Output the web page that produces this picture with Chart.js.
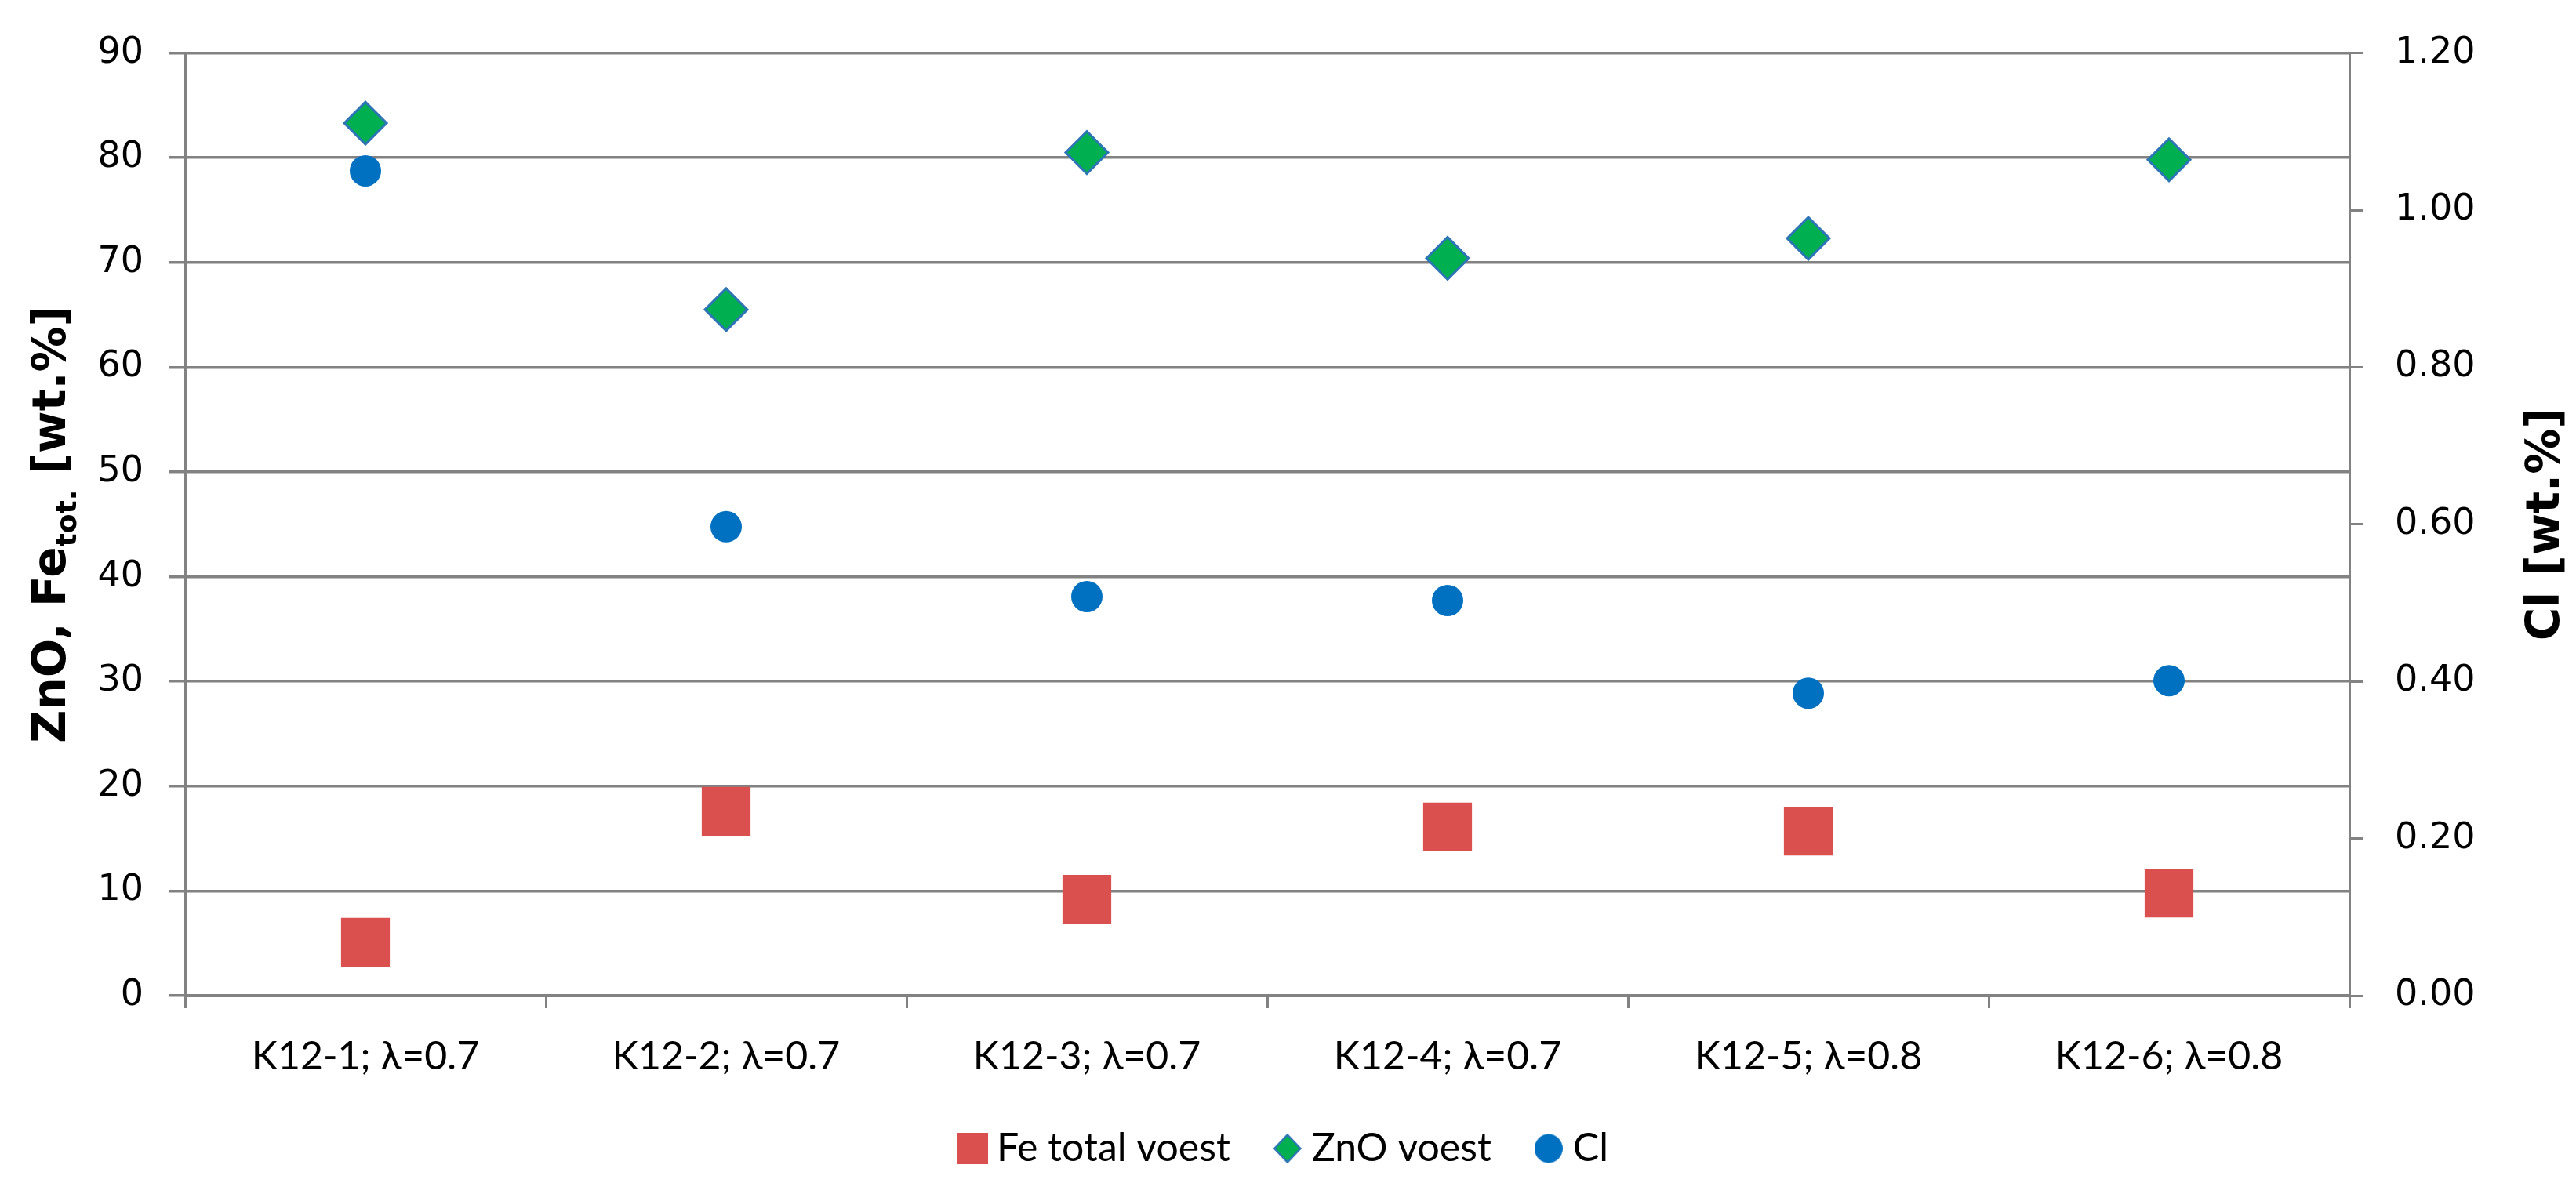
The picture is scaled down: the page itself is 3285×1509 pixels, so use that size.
<!DOCTYPE html>
<html>
<head>
<meta charset="utf-8">
<script src="https://cdn.jsdelivr.net/npm/chart.js@4.4.1/dist/chart.umd.min.js"></script>
<style>
  html, body { margin: 0; padding: 0; background: #fff; }
  #wrap { width: 3285px; height: 1509px; }
</style>
</head>
<body>
<div id="wrap"><canvas id="chart"></canvas></div>
<script>
// samples on the x axis
const categories = ['K12-1; λ=0.7', 'K12-2; λ=0.7', 'K12-3; λ=0.7', 'K12-4; λ=0.7', 'K12-5; λ=0.8', 'K12-6; λ=0.8'];

// left axis [wt.%]
const feTotal = [5.1, 17.6, 9.2, 16.1, 15.7, 9.8];
const znoVoest = [83.3, 65.5, 80.5, 70.4, 72.3, 79.8];

// right axis [wt.%]
const clValues = [1.05, 0.597, 0.508, 0.503, 0.385, 0.401];

// axis ranges
const leftMax = 90, leftStep = 10;
const rightMax = 1.2, rightStep = 0.2;

const gridGray = '#828282';
const numFont = { family: '"DejaVu Sans"', size: 46 };
const labelFont = { family: 'Lato', size: 50 };

const feColor = '#d9504e';
const znoFill = '#00b050';
const znoEdge = '#2e75b6';
const clColor = '#0070c0';

// small legend icons, sized like the ones in the original legend
function makeIcon(w, h, draw) {
  const c = document.createElement('canvas');
  c.width = w;
  c.height = h;
  draw(c.getContext('2d'), w, h);
  return c;
}
const legendIcons = [
  makeIcon(40, 40, (g, w, h) => { g.fillStyle = feColor; g.fillRect(0, 0, w, h); }),
  makeIcon(36, 38, (g, w, h) => {
    g.beginPath();
    g.moveTo(w / 2, 1.5); g.lineTo(w - 1.5, h / 2); g.lineTo(w / 2, h - 1.5); g.lineTo(1.5, h / 2);
    g.closePath();
    g.fillStyle = znoFill; g.fill();
    g.lineWidth = 2.5; g.strokeStyle = znoEdge; g.stroke();
  }),
  makeIcon(36, 37, (g, w, h) => {
    g.beginPath();
    g.ellipse(w / 2, h / 2, w / 2, h / 2, 0, 0, Math.PI * 2);
    g.fillStyle = clColor; g.fill();
  })
];

// rotated axis titles, both reading bottom to top, left one has a subscript
const axisTitles = {
  id: 'axisTitles',
  afterDraw(chart) {
    const ctx = chart.ctx;
    const area = chart.chartArea;
    const midY = (area.top + area.bottom) / 2;
    const main = 'bold 58px "DejaVu Sans"';
    const sub = 'bold 36px "DejaVu Sans"';

    const drawParts = (parts, baseX) => {
      ctx.save();
      ctx.fillStyle = '#000';
      ctx.textBaseline = 'alphabetic';
      ctx.textAlign = 'left';
      let total = 0;
      parts.forEach(p => { ctx.font = p[1]; total += ctx.measureText(p[0]).width; });
      ctx.translate(baseX, midY);
      ctx.rotate(-Math.PI / 2);
      let x = -total / 2;
      parts.forEach(p => {
        ctx.font = p[1];
        ctx.fillText(p[0], x, p[2]);
        x += ctx.measureText(p[0]).width;
      });
      ctx.restore();
    };

    drawParts([['ZnO, Fe', main, 0], ['tot.', sub, 14], [' [wt.%]', main, 0]], 83);
    drawParts([['Cl [wt.%]', main, 0]], 3263);
  }
};

const data = {
  labels: categories,
  datasets: [
    {
      label: 'Fe total voest',
      data: feTotal,
      yAxisID: 'y',
      showLine: false,
      pointStyle: 'rect',
      pointRadius: 44,
      pointHoverRadius: 44,
      pointBackgroundColor: feColor,
      pointBorderColor: feColor,
      pointBorderWidth: 0,
      backgroundColor: feColor,
      borderColor: feColor
    },
    {
      label: 'ZnO voest',
      data: znoVoest,
      yAxisID: 'y',
      showLine: false,
      pointStyle: 'rectRot',
      pointRadius: 27,
      pointHoverRadius: 27,
      pointBackgroundColor: znoFill,
      pointBorderColor: znoEdge,
      pointBorderWidth: 3,
      backgroundColor: znoFill,
      borderColor: znoEdge
    },
    {
      label: 'Cl',
      data: clValues,
      yAxisID: 'y1',
      showLine: false,
      pointStyle: 'circle',
      pointRadius: 20,
      pointHoverRadius: 20,
      pointBackgroundColor: clColor,
      pointBorderColor: clColor,
      pointBorderWidth: 0,
      backgroundColor: clColor,
      borderColor: clColor
    }
  ]
};

const config = {
  type: 'line',
  data: data,
  options: {
    responsive: true,
    maintainAspectRatio: false,
    devicePixelRatio: 1,
    animation: false,
    layout: { padding: { top: 46, left: 0, right: 0, bottom: 9 } },
    plugins: {
      legend: {
        position: 'bottom',
        labels: {
          usePointStyle: true,
          boxWidth: 12,
          boxHeight: 30,
          padding: 67,
          color: '#000',
          font: labelFont,
          generateLabels(chart) {
            const items = Chart.defaults.plugins.legend.labels.generateLabels(chart);
            items.forEach((it, i) => { it.pointStyle = legendIcons[i]; });
            return items;
          }
        }
      },
      tooltip: { enabled: false }
    },
    scales: {
      x: {
        type: 'category',
        offset: true,
        grid: {
          offset: true,
          drawOnChartArea: false,
          color: gridGray,
          lineWidth: 3,
          tickLength: 16
        },
        border: { display: true, color: gridGray, width: 3 },
        ticks: { color: '#000', font: labelFont, padding: 32, maxRotation: 0, autoSkip: false },
        afterFit(scale) {
          const legendH = scale.chart.legend ? scale.chart.legend.height : 0;
          scale.height = 1509 - 9 - legendH - 1270;
        }
      },
      y: {
        position: 'left',
        min: 0,
        max: leftMax,
        ticks: { stepSize: leftStep, color: '#000', font: numFont, padding: 33 },
        grid: { color: gridGray, lineWidth: 3.5, tickLength: 20 },
        border: { display: true, color: gridGray, width: 3 },
        afterFit(scale) { scale.width = 236; }
      },
      y1: {
        position: 'right',
        min: 0,
        max: rightMax,
        ticks: {
          stepSize: rightStep,
          color: '#000',
          font: numFont,
          padding: 40,
          callback: v => v.toFixed(2)
        },
        grid: { drawOnChartArea: false, color: gridGray, lineWidth: 3, tickLength: 18 },
        border: { display: true, color: gridGray, width: 3 },
        afterFit(scale) { scale.width = 3285 - 2996; }
      }
    }
  },
  plugins: [axisTitles]
};

const chart = new Chart(document.getElementById('chart'), config);
</script>
</body>
</html>
